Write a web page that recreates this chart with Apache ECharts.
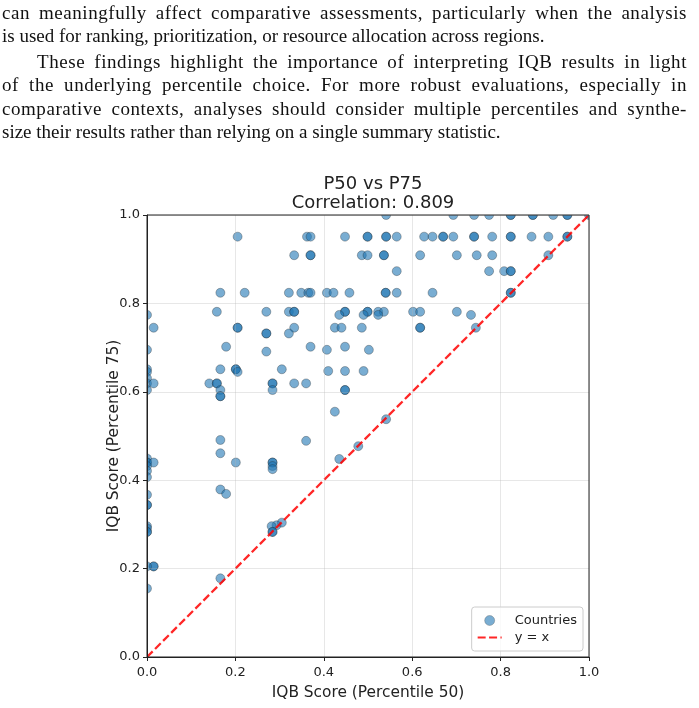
<!DOCTYPE html>
<html>
<head>
<meta charset="utf-8">
<script src="https://cdn.jsdelivr.net/npm/echarts@6/dist/echarts.min.js"></script>
<style>
  html, body { margin: 0; padding: 0; background: #fff; width: 699px; height: 708px; overflow: hidden; }
  #chart { position: absolute; left: 0; top: 0; width: 699px; height: 708px; }
  #text { position: absolute; left: 2px; top: 0.5px; width: 685px; font-family: 'Liberation Serif', serif; font-size: 19px; color: #111; z-index: 5; }
  #text .ln { height: 23.4px; line-height: 23.4px; white-space: nowrap; }
  #text .j { text-align: justify; text-align-last: justify; letter-spacing: 0.55px; }
  #text .ind { text-indent: 35px; margin-top: 2.5px; }
</style>
</head>
<body>
<div id="chart"></div>
<div id="text">
  <div class="ln j">can meaningfully affect comparative assessments, particularly when the analysis</div>
  <div class="ln">is used for ranking, prioritization, or resource allocation across regions.</div>
  <div class="ln j ind">These findings highlight the importance of interpreting IQB results in light</div>
  <div class="ln j">of the underlying percentile choice. For more robust evaluations, especially in</div>
  <div class="ln j">comparative contexts, analyses should consider multiple percentiles and synthe-</div>
  <div class="ln">size their results rather than relying on a single summary statistic.</div>
</div>
<script>
// IQB score at percentile 50 (x) for each country
const p50 = [
  0.541, 0.693, 0.740, 0.774, 0.823, 0.823, 0.873, 0.873, 0.919, 0.951, 0.951, 1.000,
  0.205, 0.362, 0.370, 0.448, 0.499, 0.499, 0.541, 0.541, 0.565, 0.627, 0.646, 0.670, 0.670, 0.693, 0.740, 0.740, 0.781, 0.823, 0.823, 0.870, 0.908, 0.951, 0.951,
  0.333, 0.370, 0.370, 0.486, 0.499, 0.536, 0.536, 0.618, 0.701, 0.746, 0.781, 0.908,
  0.565, 0.774, 0.808, 0.823, 0.823,
  0.166, 0.221, 0.321, 0.349, 0.365, 0.370, 0.407, 0.422, 0.458, 0.540, 0.540, 0.565, 0.646, 0.823, 0.823,
  0.158, 0.270, 0.321, 0.333, 0.333, 0.448, 0.448, 0.499, 0.499, 0.523, 0.536, 0.602, 0.618, 0.701,
  0.000, 0.435, 0.490, 0.523, 0.733,
  0.015, 0.205, 0.205, 0.333, 0.425, 0.440, 0.486, 0.618, 0.618, 0.744,
  0.270, 0.270, 0.321,
  0.179, 0.370, 0.448,
  0.000, 0.407, 0.502,
  0.270,
  0.000, 0.166, 0.201, 0.201, 0.305,
  0.000, 0.205, 0.410, 0.448, 0.490,
  0.000,
  0.000, 0.015, 0.141, 0.158, 0.158, 0.284, 0.284, 0.333, 0.360,
  0.000, 0.166, 0.284, 0.448, 0.448,
  0.166, 0.166,
  0.425, 0.541, 0.166, 0.360, 0.478, 0.166,
  0.435, 0.000,
  0.000, 0.000, 0.015, 0.201, 0.284, 0.284,
  0.000, 0.284, 0.284, 0.000, 0.000,
  0.166, 0.179, 0.000, 0.000, 0.000,
  0.305, 0.293, 0.282, 0.000, 0.000, 0.284, 0.284, 0.000, 0.000,
  0.015, 0.015, 0.000, 0.166, 0.000
];
// IQB score at percentile 75 (y) for each country
const p75 = [
  1.000, 1.000, 1.000, 1.000, 1.000, 1.000, 1.000, 1.000, 1.000, 1.000, 1.000, 1.000,
  0.951, 0.951, 0.951, 0.951, 0.951, 0.951, 0.951, 0.951, 0.951, 0.951, 0.951, 0.951, 0.951, 0.951, 0.951, 0.951, 0.951, 0.951, 0.951, 0.951, 0.951, 0.951, 0.951,
  0.909, 0.909, 0.909, 0.909, 0.909, 0.909, 0.909, 0.909, 0.909, 0.909, 0.909, 0.909,
  0.873, 0.873, 0.873, 0.873, 0.873,
  0.824, 0.824, 0.824, 0.824, 0.824, 0.824, 0.824, 0.824, 0.824, 0.824, 0.824, 0.824, 0.824, 0.824, 0.824,
  0.781, 0.781, 0.781, 0.781, 0.781, 0.781, 0.781, 0.781, 0.781, 0.781, 0.781, 0.781, 0.781, 0.781,
  0.774, 0.774, 0.774, 0.774, 0.774,
  0.745, 0.745, 0.745, 0.745, 0.745, 0.745, 0.745, 0.745, 0.745, 0.745,
  0.732, 0.732, 0.732,
  0.702, 0.702, 0.702,
  0.695, 0.695, 0.695,
  0.691,
  0.651, 0.651, 0.651, 0.651, 0.651,
  0.645, 0.645, 0.647, 0.647, 0.647,
  0.631,
  0.619, 0.619, 0.619, 0.619, 0.619, 0.619, 0.619, 0.619, 0.619,
  0.604, 0.604, 0.604, 0.604, 0.604,
  0.590, 0.590,
  0.555, 0.538, 0.491, 0.489, 0.477, 0.461,
  0.448, 0.449,
  0.440, 0.440, 0.440, 0.440, 0.440, 0.440,
  0.432, 0.432, 0.425, 0.421, 0.407,
  0.379, 0.369, 0.367, 0.344, 0.344,
  0.304, 0.298, 0.296, 0.296, 0.291, 0.283, 0.283, 0.283, 0.283,
  0.205, 0.205, 0.205, 0.178, 0.155
];
// reference line y = x
const refX = [0, 1];
const refY = [0, 1];
const tickMin = 0, tickMax = 1, tickStep = 0.2;

const chart = echarts.init(document.getElementById('chart'), null, { renderer: 'canvas' });

const gridL = 147, gridT = 215, gridW = 442, gridH = 442;
const font = "'DejaVu Sans', sans-serif";
const axisCommon = {
  type: 'value', min: tickMin, max: tickMax, interval: tickStep, z: 10,
  axisLine: { show: true, lineStyle: { color: '#222', width: 1 } },
  axisTick: { show: true, inside: false, length: 4, lineStyle: { color: '#222', width: 1 } },
  axisLabel: { fontFamily: font, fontSize: 13, color: '#222', formatter: v => v.toFixed(1) },
  splitLine: { show: true, lineStyle: { color: 'rgba(176,176,176,0.3)', width: 1 } },
  nameLocation: 'middle',
  nameMoveOverlap: false,
  nameTextStyle: { fontFamily: font, fontSize: 15.4, color: '#222' }
};

chart.setOption({
  animation: false,
  title: [
    { text: 'P50 vs P75', left: 368, top: 170, textAlign: 'center', z: 20,
      textStyle: { fontFamily: font, fontSize: 18, fontWeight: 'normal', color: '#222' } },
    { text: 'Correlation: 0.809', left: 368, top: 189, textAlign: 'center', z: 20,
      textStyle: { fontFamily: font, fontSize: 18, fontWeight: 'normal', color: '#222' } }
  ],
  grid: { left: gridL, top: gridT, width: gridW, height: gridH, show: false },
  xAxis: Object.assign({}, axisCommon, {
    name: 'IQB Score (Percentile 50)', nameGap: 28,
    axisLabel: Object.assign({}, axisCommon.axisLabel, { margin: 9 })
  }),
  yAxis: Object.assign({}, axisCommon, {
    name: 'IQB Score (Percentile 75)', nameGap: 26,
    axisLabel: Object.assign({}, axisCommon.axisLabel, { margin: 7 })
  }),
  legend: {
    orient: 'vertical', right: 116, bottom: 57, z: 30,
    itemWidth: 24, itemHeight: 10, itemGap: 4,
    padding: [7, 6, 7, 5],
    backgroundColor: 'rgba(255,255,255,0.8)', borderColor: '#cccccc', borderWidth: 1, borderRadius: 3,
    textStyle: { fontFamily: font, fontSize: 13, color: '#222', padding: [0, 0, 0, 8] },
    data: [
      { name: 'Countries', icon: 'circle',
        itemStyle: { color: '#1f77b4', borderColor: '#444', borderWidth: 0.5, opacity: 0.6 } },
      { name: 'y = x', itemStyle: { color: 'rgba(0,0,0,0)', borderColor: 'rgba(0,0,0,0)', borderWidth: 0, opacity: 0 } }
    ]
  },
  graphic: [
    // white masks so that markers are clipped at the plot edge, like the original
    { type: 'rect', z: 5, silent: true, shape: { x: gridL - 8, y: gridT - 8, width: gridW + 16, height: 8 }, style: { fill: '#fff' } },
    { type: 'rect', z: 5, silent: true, shape: { x: gridL - 8, y: gridT + gridH, width: gridW + 16, height: 6 }, style: { fill: '#fff' } },
    { type: 'rect', z: 5, silent: true, shape: { x: gridL - 8, y: gridT - 8, width: 8, height: gridH + 14 }, style: { fill: '#fff' } },
    { type: 'rect', z: 5, silent: true, shape: { x: gridL + gridW, y: gridT - 8, width: 8, height: gridH + 14 }, style: { fill: '#fff' } },
    // plot frame
    { type: 'rect', z: 11, silent: true, shape: { x: gridL, y: gridT, width: gridW, height: gridH }, style: { fill: 'none', stroke: '#222', lineWidth: 1 } }
  ],
  series: [
    {
      name: 'Countries', type: 'scatter', z: 2,
      symbol: 'circle', symbolSize: 9,
      itemStyle: { color: '#1f77b4', borderColor: '#1a1a1a', borderWidth: 0.5, opacity: 0.6 },
      data: p50.map((x, i) => [x, p75[i]])
    },
    {
      name: 'y = x', type: 'line', z: 3,
      symbol: 'none', showSymbol: false,
      lineStyle: { color: 'rgba(255,0,0,0.85)', width: 2.3, type: [8, 3.4] },
      itemStyle: { color: 'rgba(255,0,0,0.85)' },
      data: refX.map((x, i) => [x, refY[i]])
    }
  ]
});
</script>
</body>
</html>
